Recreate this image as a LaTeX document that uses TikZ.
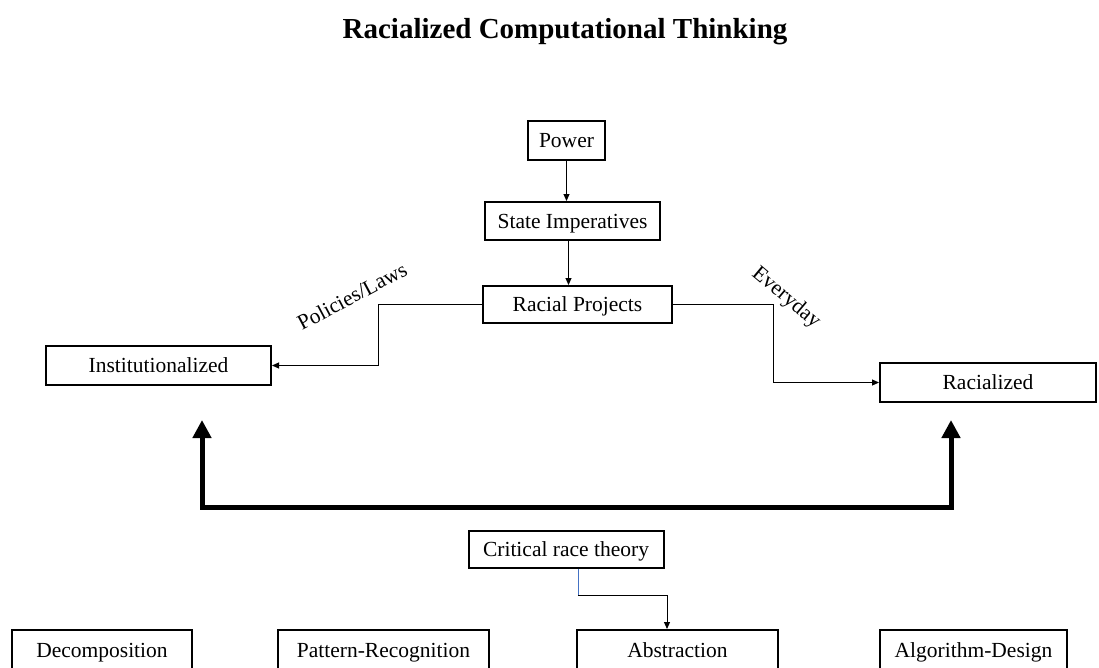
\documentclass[tikz,border=0pt]{standalone}
\usepackage{fontspec}
\setmainfont{Liberation Serif}
\usetikzlibrary{arrows.meta}
\begin{document}
\begin{tikzpicture}[x=1pt,y=-1pt,
  box/.style={draw, line width=2pt, rectangle, inner sep=0pt, text height=16pt, text depth=2pt, font=\fontsize{21.5}{25}\selectfont},
  lbl/.style={font=\fontsize{21.5}{25}\selectfont, inner sep=0pt},
  thinarrow/.style={line width=1pt, -{Triangle[length=7pt,width=6pt]}},
  bigarrow/.style={line width=5pt, line join=miter, {Triangle[length=18pt,width=18pt]}-{Triangle[length=18pt,width=18pt]}}]
\useasboundingbox (0,0) rectangle (1099,667);
\node[font=\fontsize{29}{33}\selectfont\bfseries] (title) at (565,32) {Racialized Computational Thinking};
\node[box, minimum width=77pt, minimum height=39pt] (pow) at (566.5,140.5) {Power};
\node[box, minimum width=175pt, minimum height=38pt] (si) at (572.5,221) {State Imperatives};
\node[box, minimum width=189pt, minimum height=37pt] (rp) at (577.5,304.5) {Racial Projects};
\node[box, minimum width=225pt, minimum height=39pt] (inst) at (158.5,365.5) {Institutionalized};
\node[box, minimum width=216pt, minimum height=39pt] (rac) at (988,382.5) {Racialized};
\node[box, minimum width=195pt, minimum height=37pt] (crt) at (566,549) {Critical race theory};
\node[box, minimum width=180pt, minimum height=40pt] (dec) at (102,650) {Decomposition};
\node[box, minimum width=211pt, minimum height=40pt] (pat) at (383.5,650) {Pattern-Recognition};
\node[box, minimum width=201pt, minimum height=40pt] (abs) at (677.5,650) {Abstraction};
\node[box, minimum width=187pt, minimum height=40pt] (alg) at (973.5,650) {Algorithm-Design};
\node[lbl, rotate=28] (pl) at (352,296) {Policies/Laws};
\node[lbl, rotate=-40] (ev) at (786,298) {Everyday};
\draw[thinarrow] (pow.south) -- (pow.south |- si.north);
\draw[thinarrow] ([xshift=-4pt]si.south) -- ([xshift=-4pt]si.south |- rp.north);
\coordinate (lk) at (378,304.5);
\coordinate (rk) at (773,304.5);
\draw[thinarrow] (rp.west) -- (lk) |- (inst.east);
\draw[thinarrow] (rp.east) -- (rk) |- (rac.west);
\coordinate (ltip) at (202,420);
\coordinate (lbot) at (202,507);
\coordinate (rbot) at (951,507);
\coordinate (rtip) at (951,420);
\draw[bigarrow] (ltip) -- (lbot) -- (rbot) -- (rtip);
\coordinate (cr) at (667,595);
\coordinate (cm) at ([xshift=12pt]crt.south |- cr);
\draw[line width=1pt, color={rgb,255:red,68;green,114;blue,196}] ([xshift=12pt]crt.south) -- (cm);
\draw[thinarrow] (cm) -- (cr) -- (cr |- abs.north);
\end{tikzpicture}
\end{document}
